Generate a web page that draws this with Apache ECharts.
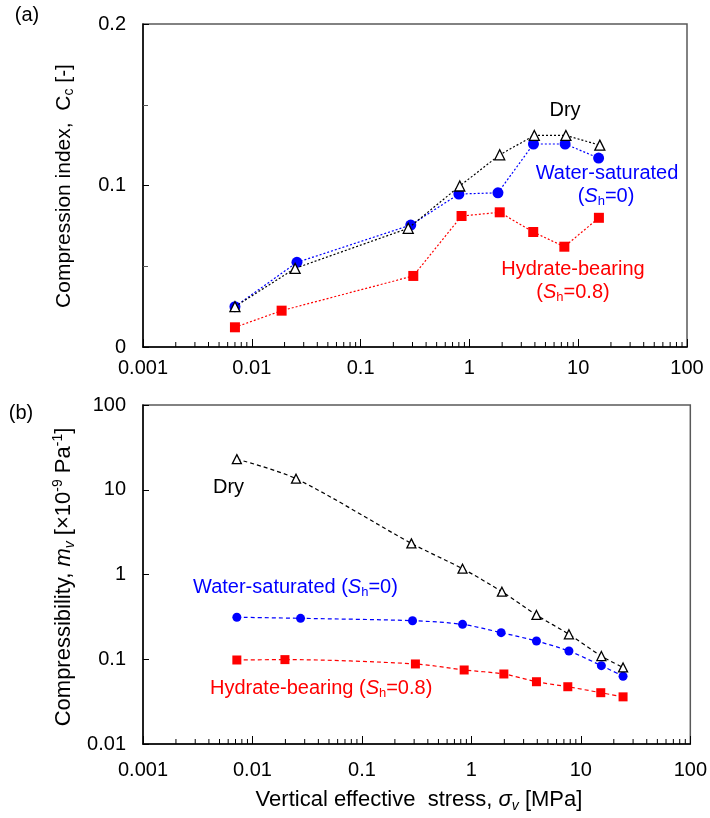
<!DOCTYPE html>
<html>
<head>
<meta charset="utf-8">
<script src="https://cdn.jsdelivr.net/npm/echarts@6/dist/echarts.min.js"></script>
<style>html,body{margin:0;padding:0;background:#fff}#c{width:710px;height:818px}</style>
</head>
<body>
<div id="c"></div>
<script>
// ---------- Panel (a): compression index ----------
const A_DRY_X   = [0.007, 0.025, 0.274, 0.816, 1.9, 3.95, 7.71, 15.8];
const A_DRY_Y   = [0.025, 0.0487, 0.0735, 0.0997, 0.119, 0.131, 0.131, 0.125];
const A_WAT_X   = [0.007, 0.026, 0.289, 0.80, 1.83, 3.88, 7.58, 15.4];
const A_WAT_Y   = [0.025, 0.0524, 0.0755, 0.0947, 0.0955, 0.1257, 0.1257, 0.117];
const A_HYD_X   = [0.007, 0.0188, 0.305, 0.847, 1.9, 3.86, 7.46, 15.5];
const A_HYD_Y   = [0.0122, 0.0225, 0.044, 0.0811, 0.0834, 0.0712, 0.0621, 0.080];

// ---------- Panel (b): compressibility ----------
const B_DRY_X   = [0.0072, 0.025, 0.283, 0.83, 1.9, 3.93, 7.78, 15.4, 24.3];
const B_DRY_Y   = [23, 13.5, 2.33, 1.17, 0.627, 0.333, 0.197, 0.109, 0.080];
const B_WAT_X   = [0.0072, 0.0275, 0.29, 0.83, 1.87, 3.93, 7.78, 15.4, 24.3];
const B_WAT_Y   = [0.313, 0.304, 0.285, 0.258, 0.206, 0.164, 0.125, 0.084, 0.063];
const B_HYD_X   = [0.0072, 0.0198, 0.308, 0.859, 1.98, 3.93, 7.6, 15.2, 24.3];
const B_HYD_Y   = [0.098, 0.099, 0.088, 0.0747, 0.067, 0.0543, 0.0474, 0.0403, 0.036];

// ---------- Tick labels ----------
const X_TICK_LABELS  = ['0.001', '0.01', '0.1', '1', '10', '100'];
const YA_TICK_LABELS = ['0', '0.1', '0.2'];
const YB_TICK_LABELS = ['0.01', '0.1', '1', '10', '100'];
const X_MINOR_TICKS = [
  0.002,0.003,0.004,0.005,0.006,0.007,0.008,0.009,
  0.02,0.03,0.04,0.05,0.06,0.07,0.08,0.09,
  0.2,0.3,0.4,0.5,0.6,0.7,0.8,0.9,
  2,3,4,5,6,7,8,9,
  20,30,40,50,60,70,80,90
];

const F = '"Liberation Sans", Arial, sans-serif';
const pairs = (xs, ys) => xs.map((x, i) => [x, ys[i]]);

function richStyles(color, fs) {
  const s = Math.round(fs * 0.65);
  return {
    n:    { fontSize: fs, fontFamily: F, fill: color, color: color, lineHeight: fs + 4 },
    i:    { fontSize: fs, fontFamily: F, fontStyle: 'italic', fill: color, color: color, lineHeight: fs + 4 },
    sub:  { fontSize: s, fontFamily: F, fill: color, color: color, lineHeight: s, verticalAlign: 'bottom' },
    subi: { fontSize: s, fontFamily: F, fontStyle: 'italic', fill: color, color: color, lineHeight: s, verticalAlign: 'bottom' },
    sup:  { fontSize: s, fontFamily: F, fill: color, color: color, lineHeight: s, verticalAlign: 'top' }
  };
}
function txt(x, y, text, color, align, rotation, fs) {
  fs = fs || 20;
  return {
    type: 'text', x: x, y: y, rotation: rotation || 0, z: 100,
    style: {
      text: text, rich: richStyles(color, fs), fill: color,
      font: fs + 'px ' + F,
      align: align || 'center', verticalAlign: 'middle',
      textAlign: align || 'center', textVerticalAlign: 'middle'
    }
  };
}

function minorTickSeries(xi, yi, yval) {
  return {
    type: 'custom', xAxisIndex: xi, yAxisIndex: yi, silent: true, clip: false, z: 1,
    data: X_MINOR_TICKS.map(v => [v, yval]),
    encode: { x: 0, y: 1 },
    renderItem: function (params, api) {
      const cs = params.coordSys;
      const px = api.coord([api.value(0), api.value(1)])[0];
      const yb = cs.y + cs.height;
      return { type: 'line', shape: { x1: px, y1: yb, x2: px, y2: yb - 5 },
               style: { stroke: '#000', lineWidth: 1 } };
    }
  };
}

const axisLine = { show: true, lineStyle: { color: '#000', width: 1.5 } };
const labelStyle = { color: '#000', fontSize: 20, fontFamily: F };

const option = {
  animation: false,
  backgroundColor: '#fff',
  grid: [
    { left: 143, top: 24, width: 544, height: 323, show: true, borderColor: '#595959', borderWidth: 1.5, containLabel: false },
    { left: 143, top: 405, width: 549, height: 339, show: true, borderColor: '#595959', borderWidth: 1.5, containLabel: false }
  ],
  xAxis: [
    { type: 'log', logBase: 10, gridIndex: 0, min: 0.001, max: 100, splitNumber: 5,
      axisLine: axisLine, axisTick: { show: true, inside: true, length: 8, lineStyle: { color: '#000', width: 1 } },
      splitLine: { show: false },
      axisLabel: Object.assign({ margin: 11, showMinLabel: true, showMaxLabel: true,
        formatter: (v, i) => X_TICK_LABELS[i] }, labelStyle) },
    { type: 'log', logBase: 10, gridIndex: 1, min: 0.001, max: 100, splitNumber: 5,
      axisLine: axisLine, axisTick: { show: true, inside: true, length: 8, lineStyle: { color: '#000', width: 1 } },
      splitLine: { show: false },
      axisLabel: Object.assign({ margin: 16, showMinLabel: true, showMaxLabel: true,
        formatter: (v, i) => X_TICK_LABELS[i] }, labelStyle) }
  ],
  yAxis: [
    { type: 'value', gridIndex: 0, min: 0, max: 0.2, interval: 0.1,
      axisLine: axisLine, axisTick: { show: true, inside: true, length: 6, lineStyle: { color: '#000', width: 1 } },
      minorTick: { show: true, splitNumber: 2, length: 5, lineStyle: { color: '#555', width: 1 } },
      splitLine: { show: false },
      axisLabel: Object.assign({ margin: 17, formatter: (v, i) => YA_TICK_LABELS[i] }, labelStyle) },
    { type: 'log', logBase: 10, gridIndex: 1, min: 0.01, max: 100, splitNumber: 4,
      axisLine: axisLine, axisTick: { show: true, inside: true, length: 6, lineStyle: { color: '#000', width: 1 } },
      splitLine: { show: false },
      axisLabel: Object.assign({ margin: 17, showMinLabel: true, showMaxLabel: true,
        formatter: (v, i) => YB_TICK_LABELS[i] }, labelStyle) }
  ],
  series: [
    minorTickSeries(0, 0, 0.1),
    minorTickSeries(1, 1, 1),
    // panel a
    { type: 'line', xAxisIndex: 0, yAxisIndex: 0, data: pairs(A_HYD_X, A_HYD_Y),
      symbol: 'rect', symbolSize: 10, itemStyle: { color: '#ff0000' },
      lineStyle: { color: '#ff0000', width: 1.2, type: [2, 2] }, z: 3 },
    { type: 'line', xAxisIndex: 0, yAxisIndex: 0, data: pairs(A_WAT_X, A_WAT_Y),
      symbol: 'circle', symbolSize: 11, itemStyle: { color: '#0000ff' },
      lineStyle: { color: '#0000ff', width: 1.2, type: [2, 2] }, z: 4 },
    { type: 'line', xAxisIndex: 0, yAxisIndex: 0, data: pairs(A_DRY_X, A_DRY_Y),
      symbol: 'triangle', symbolSize: 10, itemStyle: { color: '#fff', borderColor: '#000', borderWidth: 1.3 },
      lineStyle: { color: '#000', width: 1.2, type: [2, 2] }, z: 5 },
    // panel b
    { type: 'line', xAxisIndex: 1, yAxisIndex: 1, data: pairs(B_HYD_X, B_HYD_Y), smooth: 0.3,
      symbol: 'rect', symbolSize: 9, itemStyle: { color: '#ff0000' },
      lineStyle: { color: '#ff0000', width: 1.2, type: [4, 3] }, z: 3 },
    { type: 'line', xAxisIndex: 1, yAxisIndex: 1, data: pairs(B_WAT_X, B_WAT_Y), smooth: 0.3,
      symbol: 'circle', symbolSize: 9, itemStyle: { color: '#0000ff' },
      lineStyle: { color: '#0000ff', width: 1.2, type: [4, 3] }, z: 4 },
    { type: 'line', xAxisIndex: 1, yAxisIndex: 1, data: pairs(B_DRY_X, B_DRY_Y), smooth: 0.3,
      symbol: 'triangle', symbolSize: 9, itemStyle: { color: '#fff', borderColor: '#000', borderWidth: 1.3 },
      lineStyle: { color: '#000', width: 1.2, type: [4, 3] }, z: 5 }
  ],
  graphic: [
    txt(27, 15, '{n|(a)}', '#000'),
    txt(21, 413, '{n|(b)}', '#000'),
    // axis titles
    txt(64, 186, '{n|Compression index,  C}{sub|c}{n| [-]}', '#000', 'center', Math.PI / 2, 21),
    txt(64, 577, '{n|Compressibility, }{i|m}{subi|v}{n| [×10}{sup|-9}{n| Pa}{sup|-1}{n|]}', '#000', 'center', Math.PI / 2, 22),
    txt(419, 800, '{n|Vertical effective  stress, }{i|σ}{subi|v}{n| [MPa]}', '#000', 'center', 0, 22),
    // panel a annotations
    txt(565, 110, '{n|Dry}', '#000'),
    txt(607, 173, '{n|Water-saturated}', '#0000ff'),
    txt(606, 196, '{n|(}{i|S}{sub|h}{n|=0)}', '#0000ff'),
    txt(573, 269, '{n|Hydrate-bearing}', '#ff0000'),
    txt(573, 292, '{n|(}{i|S}{sub|h}{n|=0.8)}', '#ff0000'),
    // panel b annotations
    txt(213, 487, '{n|Dry}', '#000', 'left'),
    txt(193, 587, '{n|Water-saturated (}{i|S}{sub|h}{n|=0)}', '#0000ff', 'left'),
    txt(210, 688, '{n|Hydrate-bearing (}{i|S}{sub|h}{n|=0.8)}', '#ff0000', 'left')
  ]
};

const chart = echarts.init(document.getElementById('c'), null, { renderer: 'canvas' });
chart.setOption(option);
</script>
</body>
</html>
